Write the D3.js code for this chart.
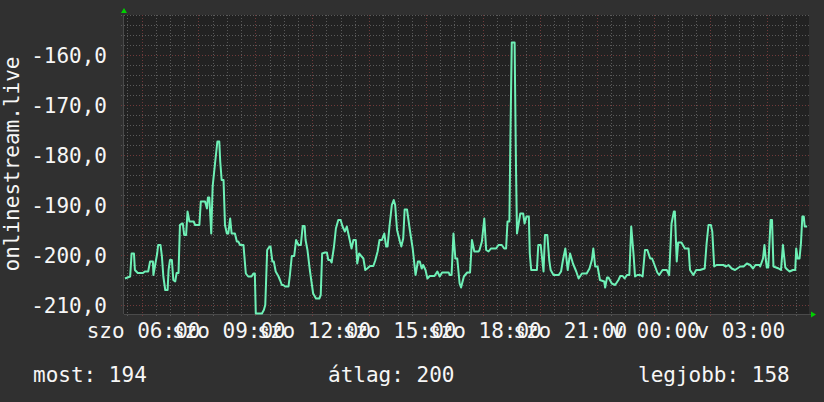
<!DOCTYPE html>
<html><head><meta charset="utf-8">
<script src="https://cdn.jsdelivr.net/npm/d3@7/dist/d3.min.js"></script>
<style>
html,body{margin:0;padding:0;background:#303030;}
svg{display:block;}
text{font-family:"DejaVu Sans Mono",monospace;fill:#f6f6f6;}
</style></head>
<body>
<script>
// time in minutes since Saturday 00:00, values in the unit of the chart
const minutes = [325,336,339,344,346,352,363,367,374,378,384,385,393,395,400,403,406,410,415,417,420,424,427,431,434,438,441,445,447,450,454,457,461,470,473,482,485,494,498,500,503,507,510,515,520,524,526,529,533,536,540,543,547,550,557,561,564,568,575,580,585,592,596,599,601,614,618,621,625,630,632,636,639,643,649,652,656,659,663,670,673,677,682,686,691,696,700,704,706,710,715,722,728,735,738,741,747,751,754,758,761,766,770,775,780,784,789,793,803,807,812,815,819,828,832,836,842,849,853,858,862,867,872,876,879,883,888,892,895,899,905,908,912,915,920,926,932,938,943,947,951,954,959,963,968,978,984,989,994,1008,1010,1014,1018,1022,1026,1031,1034,1040,1047,1053,1057,1062,1071,1073,1078,1083,1087,1092,1097,1108,1113,1120,1125,1129,1132,1136,1138,1141,1147,1148,1150,1152,1159,1165,1168,1172,1177,1179,1182,1187,1194,1197,1202,1208,1211,1216,1220,1223,1229,1240,1245,1249,1254,1259,1264,1270,1277,1282,1289,1299,1305,1310,1313,1317,1322,1327,1336,1338,1342,1345,1352,1359,1366,1370,1375,1379,1384,1389,1393,1398,1401,1406,1412,1417,1422,1427,1433,1437,1441,1448,1452,1459,1468,1473,1478,1483,1485,1489,1492,1499,1506,1514,1517,1524,1530,1538,1548,1552,1556,1561,1564,1568,1573,1587,1593,1598,1605,1612,1623,1630,1637,1644,1650,1655,1664,1665,1671,1674,1677,1679,1682,1687,1690,1693,1704,1709,1713,1718,1722,1727,1734,1739,1741,1744,1748,1751,1754,1757,1759,1764];
const values = [-204.7,-204.3,-199.7,-199.7,-203,-203.6,-203.6,-203.3,-203.3,-201.3,-201.3,-204,-199.7,-198,-198,-200.3,-204.3,-207,-207,-203,-201,-201,-205,-205.3,-203.6,-203.6,-194,-193.7,-193.7,-196,-196,-191.3,-193.3,-193.3,-194,-194,-189.3,-189.3,-190.7,-188.5,-188.5,-195.7,-186.3,-181.7,-177.3,-177.3,-181.3,-185,-185,-194,-195.7,-195.7,-192.7,-195.7,-195.7,-197.3,-197.3,-198,-198,-203.7,-204.3,-204.3,-203.7,-203.7,-211.7,-211.7,-211,-210,-199,-198.3,-198.3,-201.3,-201.3,-203.3,-204.3,-205,-206,-206,-206.3,-206.3,-204,-200.2,-200.2,-197,-198,-198,-194.2,-194.2,-197,-199,-203,-207.7,-208.7,-208.7,-208,-199.7,-199.5,-199.5,-201,-201,-201.5,-198.3,-194.7,-193,-193,-194.3,-195.3,-194.3,-198.7,-197,-197,-201.7,-199.7,-200.7,-203,-202.7,-202.2,-202.2,-201.1,-199.3,-197,-197,-195.7,-198.3,-198.3,-194.3,-190,-189,-190,-195,-197.3,-198.3,-196.7,-190.9,-190.9,-195,-198.7,-204,-201.3,-201.3,-202.7,-202,-203,-204.7,-204.2,-204.2,-203.3,-204.3,-203.5,-203.5,-204,-204,-195.7,-200.7,-200.7,-205.7,-206.5,-204.3,-203.5,-203.5,-197,-199.3,-199.3,-199,-197.3,-192.7,-199,-199.3,-198.7,-198.7,-198,-198,-198.7,-198.7,-193.3,-193.3,-177.3,-157.5,-157.5,-166.3,-183,-195.7,-191.7,-191.7,-193.7,-192.3,-192.3,-199.7,-203,-203,-203,-198,-198,-203.3,-196,-196,-201,-203,-204,-204,-203.3,-201,-198.7,-203,-199.7,-201.7,-203.3,-204.7,-203.7,-203.7,-202.7,-201,-198.7,-202.3,-202.3,-205,-205.3,-206.5,-204.5,-204.5,-205.7,-206,-205,-204.2,-204.2,-204.7,-204,-204,-194.3,-200,-204.3,-204,-204,-204.3,-199,-199,-200.7,-200.7,-201.7,-203.5,-204,-203,-203,-204,-193.7,-191.3,-191.3,-201.3,-197.5,-197.5,-198.7,-198.7,-203,-204,-203,-203,-202.7,-197.7,-194,-194,-195.3,-202.3,-202,-202,-202.3,-202,-202.7,-203,-202.3,-202.3,-201.7,-202,-202.7,-202,-202,-202.3,-200.7,-198,-201,-202.5,-202.5,-193,-193,-202.3,-202.7,-203,-198,-202.5,-202.9,-203.3,-203,-203,-198.7,-200.7,-200.7,-197.7,-192.3,-192.3,-194.3,-194.3];

const yTickValues = [-210,-200,-190,-180,-170,-160];
const yTickLabels = ["-210,0","-200,0","-190,0","-180,0","-170,0","-160,0"];
const xLabelTimes = [360,540,720,900,1080,1260,1440,1620];
const xLabelTexts = ["szo 06:00","szo 09:00","szo 12:00","szo 15:00","szo 18:00","szo 21:00","v 00:00","v 03:00"];
const axisTitle = "onlinestream.live";
const legendItems = ["most: 194","átlag: 200","legjobb: 158"];

const W = 824, H = 402;
const plot = {l:124, r:809, t:15, b:314};
const FS = "21px";
const svg = d3.select("body").append("svg").attr("width",W).attr("height",H);
svg.append("rect").attr("width",W).attr("height",H).attr("fill","#303030");

const x = d3.scaleLinear().domain([323, 1768]).range([plot.l, plot.r]);
const y = d3.scaleLinear().domain([-211.8, -152]).range([plot.b, plot.t]);

svg.append("rect").attr("x",plot.l).attr("y",plot.t).attr("width",plot.r-plot.l).attr("height",plot.b-plot.t).attr("fill","#222222");

const minorX = d3.range(330, 1768, 30).filter(m => m % 120 !== 0);
const majorX = d3.range(360, 1768, 120);
const minorY = d3.range(-210, -151, 2).filter(v => v % 10 !== 0);
const majorY = yTickValues;

const grid = svg.append("g");
grid.selectAll(".mx").data(minorX).join("line")
  .attr("x1",d=>Math.round(x(d))+0.5).attr("x2",d=>Math.round(x(d))+0.5)
  .attr("y1",plot.t).attr("y2",plot.b+3)
  .attr("stroke","#5a5a5a").attr("stroke-dasharray","1,2");
grid.selectAll(".my").data(minorY).join("line")
  .attr("y1",d=>Math.round(y(d))+0.5).attr("y2",d=>Math.round(y(d))+0.5)
  .attr("x1",plot.l-3).attr("x2",plot.r)
  .attr("stroke","#5a5a5a").attr("stroke-dasharray","1,2");
grid.selectAll(".Mx").data(majorX).join("line")
  .attr("x1",d=>Math.round(x(d))+0.5).attr("x2",d=>Math.round(x(d))+0.5)
  .attr("y1",plot.t).attr("y2",plot.b+3)
  .attr("stroke","#703a3a").attr("stroke-dasharray","1,2");
grid.selectAll(".My").data(majorY).join("line")
  .attr("y1",d=>Math.round(y(d))+0.5).attr("y2",d=>Math.round(y(d))+0.5)
  .attr("x1",plot.l-3).attr("x2",plot.r)
  .attr("stroke","#703a3a").attr("stroke-dasharray","1,2");

// axes lines
svg.append("line").attr("x1",plot.l-0.5).attr("x2",plot.l-0.5).attr("y1",plot.t).attr("y2",plot.b)
  .attr("stroke","#4a4a4a");
svg.append("line").attr("x1",plot.l).attr("x2",plot.r+2).attr("y1",plot.b+0.5).attr("y2",plot.b+0.5)
  .attr("stroke","#4a4a4a");

// data line
const line = d3.line().x((d,i)=>x(minutes[i])).y(d=>y(d));
svg.append("path").datum(values).attr("d",line)
  .attr("fill","none").attr("stroke","#6ef0b6").attr("stroke-width",2).attr("stroke-linejoin","round");

// arrows
svg.append("path").attr("d",`M${plot.l-3},${plot.t-2}L${plot.l+3},${plot.t-2}L${plot.l},${plot.t-7}Z`).attr("fill","#00d000");
svg.append("path").attr("d",`M${plot.r+2},${plot.b-2.5}L${plot.r+2},${plot.b+3.5}L${plot.r+7},${plot.b+0.5}Z`).attr("fill","#00d000");

// y labels
svg.selectAll(".yl").data(yTickValues).join("text")
  .attr("x",107).attr("y",d=>y(d)+7.5).attr("text-anchor","end")
  .attr("font-size",FS).text((d,i)=>yTickLabels[i]);

// x labels
svg.selectAll(".xl").data(xLabelTimes).join("text")
  .attr("x",d=>x(d)+2).attr("y",338).attr("text-anchor","middle")
  .attr("font-size",FS).text((d,i)=>xLabelTexts[i]);

// axis title
svg.append("text").attr("transform","translate(19,164) rotate(-90)")
  .attr("text-anchor","middle").attr("font-size",FS).text(axisTitle);

// legend
const legX = [33, 328, 638];
svg.selectAll(".lg").data(legendItems).join("text")
  .attr("x",(d,i)=>legX[i]).attr("y",382).attr("font-size",FS).text(d=>d);
</script>
</body></html>
